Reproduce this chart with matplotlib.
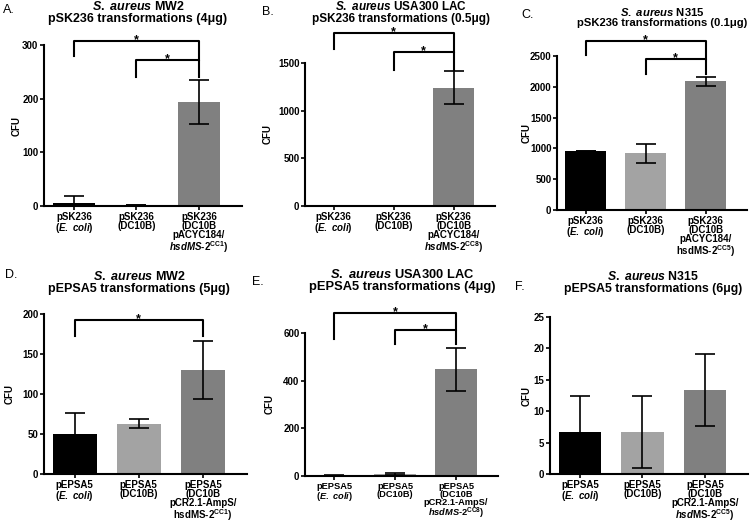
import numpy as np
import matplotlib.pyplot as plt

plt.rcParams['font.family'] = ['Liberation Sans', 'DejaVu Sans']
plt.rcParams['mathtext.fontset'] = 'custom'
plt.rcParams['mathtext.rm'] = 'Liberation Sans:bold'
plt.rcParams['mathtext.it'] = 'Liberation Sans:bold:italic'
plt.rcParams['mathtext.bf'] = 'Liberation Sans:bold'

# ---- data ----
letters = ['A.', 'B.', 'C.', 'D.', 'E.', 'F.']
titles = [
    '$S.\\ aureus$ MW2\npSK236 transformations (4μg)',
    '$S.\\ aureus$ USA300 LAC\npSK236 transformations (0.5μg)',
    '$S.\\ aureus$ N315\npSK236 transformations (0.1μg)',
    '$S.\\ aureus$ MW2\npEPSA5 transformations (5μg)',
    '$S.\\ aureus$ USA300 LAC\npEPSA5 transformations (4μg)',
    '$S.\\ aureus$ N315\npEPSA5 transformations (6μg)',
]
labels_a = ['pSK236\n($E.\\ coli$)', 'pSK236\n(DC10B)',
            'pSK236\n(DC10B\npACYC184/\n$hsdMS$-2$^{\\mathrm{CC1}}$)']
labels_b = ['pSK236\n($E.\\ coli$)', 'pSK236\n(DC10B)',
            'pSK236\n(DC10B\npACYC184/\n$hsd$MS-2$^{\\mathrm{CC8}}$)']
labels_c = ['pSK236\n($E.\\ coli$)', 'pSK236\n(DC10B)',
            'pSK236\n(DC10B\npACYC184/\nhsdMS-2$^{\\mathrm{CC5}}$)']
labels_d = ['pEPSA5\n($E.\\ coli$)', 'pEPSA5\n(DC10B)',
            'pEPSA5\n(DC10B\npCR2.1-AmpS/\nhsdMS-2$^{\\mathrm{CC1}}$)']
labels_e = ['pEPSA5\n($E.\\ coli$)', 'pEPSA5\n(DC10B)',
            'pEPSA5\n(DC10B\npCR2.1-AmpS/\n$hsdMS$-2$^{\\mathrm{CC8}}$)']
labels_f = ['pEPSA5\n($E.\\ coli$)', 'pEPSA5\n(DC10B)',
            'pEPSA5\n(DC10B\npCR2.1-AmpS/\n$hsd$MS-2$^{\\mathrm{CC5}}$)']
labels = [labels_a, labels_b, labels_c, labels_d, labels_e, labels_f]

cfu_a = [5, 1, 193]
err_a = [13, 0, 41]
cfu_b = [0, 0, 1240]
err_b = [0, 0, 175]
cfu_c = [950, 920, 2090]
err_c = [0, 150, 70]
cfu_d = [50, 63, 130]
err_d = [26, 6, 36]
cfu_e = [2, 8, 447]
err_e = [1, 4, 91]
cfu_f = [6.7, 6.7, 13.4]
err_f = [5.7, 5.7, 5.7]
cfus = [cfu_a, cfu_b, cfu_c, cfu_d, cfu_e, cfu_f]
errs = [err_a, err_b, err_c, err_d, err_e, err_f]

yticks = [np.arange(0, 301, 100), np.arange(0, 1501, 500), np.arange(0, 2501, 500),
          np.arange(0, 201, 50), np.arange(0, 601, 200), np.arange(0, 26, 5)]

# significance brackets: (x1, x2, y, left tick end, right tick end)
brackets = [
    [(0, 2, 307, 279, 272), (1, 2, 272, 240, 240)],
    [(0, 2, 1815, 1647, 1615), (1, 2, 1615, 1427, 1427)],
    [(0, 2, 2743, 2516, 2451), (1, 2, 2451, 2208, 2208)],
    [(0, 2, 192, 172, 172)],
    [(0, 2, 682, 575, 612), (1, 2, 612, 555, 555)],
    [],
]

colors = ['black', '#a3a3a3', '#808080']

# ---- layout (pixels) ----
W, H = 750, 524
axes_px = [(44, 242, 45, 206), (305, 495, 63, 206), (557, 747, 56, 210),
           (44, 247, 314, 474), (305, 498, 333, 476), (550, 748, 317, 474)]
title_px = [(138, 0), (401, 0), (662, 6), (139, 270), (402, 268), (653, 270)]
title_fs = [9.0, 8.5, 8.1, 9.0, 9.3, 8.8]
tick_fs = [7, 7, 7, 7, 6.7, 7]
letter_px = [(3, 10), (262, 12), (521, 15), (5, 275), (252, 282), (515, 287)]
cfu_px = [12, 263, 522, 5, 265, 522]

fig = plt.figure(figsize=(7.5, 5.24), dpi=100)

for i in range(6):
    l, r, t, b = axes_px[i]
    ax = fig.add_axes([l / W, 1 - b / H, (r - l) / W, (b - t) / H])
    x = np.arange(3)
    ax.bar(x, cfus[i], width=0.68, color=colors)
    ax.errorbar(x, cfus[i], yerr=errs[i], fmt='none', ecolor='black',
                elinewidth=1.2, capsize=7, capthick=1.2)
    ax.set_xlim(-0.48, 2.69)
    ax.set_ylim(0, yticks[i][-1])
    ax.set_yticks(yticks[i])
    ax.set_xticks(x)
    ax.set_xticklabels(labels[i], fontsize=tick_fs[i], fontweight='bold',
                       linespacing=0.9)
    for lab in ax.get_yticklabels():
        lab.set_fontweight('bold')
        lab.set_fontsize(7)
    ax.spines['top'].set_visible(False)
    ax.spines['right'].set_visible(False)
    ax.spines['left'].set_linewidth(1.5)
    ax.spines['bottom'].set_linewidth(1.5)
    ax.tick_params(axis='both', width=1.2, length=3, pad=1)

    for x1, x2, y, yl, yr in brackets[i]:
        ax.plot([x1, x1, x2, x2], [yl, y, y, yr], color='black', lw=1.5,
                clip_on=False)
        ax.annotate('*', xy=((x1 + x2) / 2, y), xytext=(0, -1.5),
                    textcoords='offset points', ha='center', va='baseline',
                    fontsize=9, fontweight='bold', annotation_clip=False)

    tx, ty = title_px[i]
    fig.text(tx / W, 1 - ty / H, titles[i], ha='center', va='top',
             fontsize=title_fs[i], fontweight='bold', linespacing=1.05)
    lx, ly = letter_px[i]
    fig.text(lx / W, 1 - ly / H, letters[i], ha='left', va='center', fontsize=9)
    fig.text(cfu_px[i] / W, 1 - ((t + b) / 2) / H, 'CFU', rotation=90,
             ha='left', va='center', fontsize=7, fontweight='bold')

fig.savefig('out.png', dpi=100)
